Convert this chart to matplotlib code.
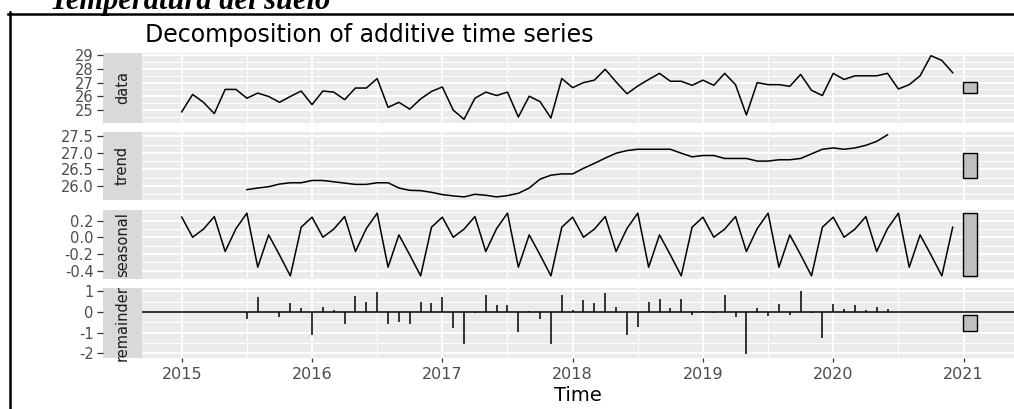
import numpy as np
import matplotlib
matplotlib.use("Agg")
from matplotlib import pyplot as plt
from matplotlib.patches import Rectangle
from matplotlib.lines import Line2D
from matplotlib.ticker import FixedLocator, MultipleLocator, FormatStrFormatter

plt.rcParams['font.family'] = ['DejaVu Sans']
plt.rcParams['axes.unicode_minus'] = False

# monthly series, Jan 2015 .. Dec 2020
start_year = 2015
freq = 12
data_vals = [24.85, 26.13, 25.55, 24.72, 26.50, 26.50, 25.85, 26.23, 25.98, 25.55, 25.98, 26.38,
             25.38, 26.38, 26.30, 25.75, 26.60, 26.60, 27.30, 25.18, 25.55, 25.05, 25.80, 26.35,
             26.68, 24.98, 24.30, 25.85, 26.30, 26.05, 26.30, 24.47, 26.00, 25.60, 24.40, 27.30,
             26.63, 27.00, 27.18, 27.98, 27.05, 26.18, 26.75, 27.23, 27.68, 27.10, 27.10, 26.80,
             27.18, 26.80, 27.68, 26.85, 24.62, 27.00, 26.85, 26.85, 26.73, 27.60, 26.43, 26.05,
             27.68, 27.23, 27.50, 27.50, 27.50, 27.68, 26.53, 26.85, 27.50, 28.98, 28.63, 27.73]

# trend and remainder run Jul 2015 .. Jun 2020
trend_offset = 6
trend_vals = [25.88, 25.93, 25.97, 26.05, 26.09, 26.09,
              26.16, 26.16, 26.12, 26.08, 26.04, 26.04, 26.09, 26.09, 25.93, 25.86, 25.85, 25.80,
              25.73, 25.69, 25.66, 25.74, 25.71, 25.66, 25.70, 25.77, 25.93, 26.20, 26.32, 26.36,
              26.36, 26.53, 26.68, 26.84, 26.99, 27.07, 27.11, 27.11, 27.11, 27.11, 26.99, 26.88,
              26.92, 26.92, 26.83, 26.83, 26.83, 26.75, 26.75, 26.79, 26.79, 26.83, 26.97, 27.11,
              27.15, 27.11, 27.15, 27.23, 27.35, 27.55]

seasonal_month = [0.241, 0.0, 0.097, 0.248, -0.172, 0.104, 0.289, -0.36, 0.028, -0.212, -0.464, 0.12]

remainder_vals = [-0.33, 0.70, -0.02, -0.25, 0.45, 0.17,
                  -1.10, 0.25, 0.07, -0.60, 0.78, 0.50, 0.98, -0.60, -0.47, -0.60, 0.50, 0.45,
                  0.70, -0.80, -1.55, -0.05, 0.83, 0.33, 0.33, -0.97, 0.04, -0.33, -1.55, 0.83,
                  0.07, 0.57, 0.45, 0.90, 0.25, -1.10, -0.72, 0.50, 0.62, 0.17, 0.62, -0.13,
                  0.02, -0.05, 0.82, -0.25, -2.05, 0.17, -0.18, 0.37, -0.13, 1.00, -0.05, -1.25,
                  0.37, 0.12, 0.32, 0.07, 0.25, 0.12]

panel_names = ["data", "trend", "seasonal", "remainder"]
year_ticks = [2015, 2016, 2017, 2018, 2019, 2020, 2021]
data_ticks = [25, 26, 27, 28, 29]
trend_ticks = [26.0, 26.5, 27.0, 27.5]
seasonal_ticks = [-0.4, -0.2, 0.0, 0.2]
remainder_ticks = [-2, -1, 0, 1]

n = len(data_vals)
t = start_year + np.arange(n) / freq
t_tr = t[trend_offset:trend_offset + len(trend_vals)]
seasonal_vals = np.tile(seasonal_month, n // freq)

W, H = 1014, 409
fig = plt.figure(figsize=(W / 100, H / 100), dpi=100)


def box(x0, y0, x1, y1):
    return [x0 / W, 1 - y1 / H, (x1 - x0) / W, (y1 - y0) / H]


rows = [(52.5, 122.5), (131.7, 200), (210, 279), (288, 357.5)]
px_left, px_strip, px_right = 142, 103, 1014
xlim = (2014.695, 2014.695 + (px_right - px_left) / 130.3)

series = [(t, np.array(data_vals)), (t_tr, np.array(trend_vals)),
          (t, seasonal_vals), (t_tr, np.array(remainder_vals))]
ticks = [data_ticks, trend_ticks, seasonal_ticks, remainder_ticks]
fmts = ['%d', '%.1f', '%.1f', '%d']

# range bars: same length (seasonal range) in every panel, centred on each panel's range
bar_len = seasonal_vals.max() - seasonal_vals.min()
span = t[-1] - t[0]
bar_x0 = t[-1] + 0.014 * span
bar_w = 0.018 * span

for i, name in enumerate(panel_names):
    y0, y1 = rows[i]
    xs, ys = series[i]
    lo, hi = ys.min(), ys.max()
    if name == "remainder":
        lo, hi = min(lo, 0), max(hi, 0)
    r = hi - lo
    ylim = (lo - 0.05 * r, hi + 0.05 * r)
    mid = (ys.min() + ys.max()) / 2

    ax = fig.add_axes(box(px_left, y0, px_right, y1))
    ax.set_facecolor('#EBEBEB')
    for s in ax.spines.values():
        s.set_visible(False)
    ax.set_xlim(*xlim)
    ax.set_ylim(*ylim)
    step = ticks[i][1] - ticks[i][0]
    ax.yaxis.set_major_locator(FixedLocator(ticks[i]))
    ax.yaxis.set_minor_locator(MultipleLocator(step / 2))
    ax.xaxis.set_major_locator(FixedLocator(year_ticks))
    ax.xaxis.set_minor_locator(MultipleLocator(0.5))
    ax.grid(which='major', color='white', lw=1.3)
    ax.grid(which='minor', color='white', lw=0.65)
    ax.set_axisbelow(True)
    ax.tick_params(which='both', left=False, labelleft=False)
    ax.tick_params(which='minor', bottom=False)

    if name == "remainder":
        ax.axhline(0, color='black', lw=1.1)
        ax.vlines(xs, 0, ys, color='black', lw=1.1)
        ax.tick_params(which='major', bottom=True, length=3, width=0.9, color='#333333',
                       labelsize=11.5, labelcolor='#4D4D4D', pad=4)
        ax.set_xticklabels([str(y) for y in year_ticks])
        ax.set_xlabel("Time", fontsize=14, labelpad=3)
    else:
        ax.plot(xs, ys, color='black', lw=1.1)
        ax.tick_params(which='major', bottom=False, labelbottom=False)

    ax.add_patch(Rectangle((bar_x0, mid - bar_len / 2), bar_w, bar_len,
                           facecolor='#BFBFBF', edgecolor='black', lw=1.0))

    sax = fig.add_axes(box(px_strip, y0, px_left, y1))
    sax.set_facecolor('#D9D9D9')
    for s in sax.spines.values():
        s.set_visible(False)
    sax.set_ylim(*ylim)
    sax.set_xticks([])
    sax.yaxis.set_major_locator(FixedLocator(ticks[i]))
    sax.yaxis.set_major_formatter(FormatStrFormatter(fmts[i]))
    sax.tick_params(axis='y', length=4.3, width=0.9, color='#333333',
                    labelsize=10.5, labelcolor='#4D4D4D', pad=2.5)
    sax.text(0.5, 0.5, name, rotation=90, ha='center', va='center',
             transform=sax.transAxes, fontsize=10.5, color='#1A1A1A')

fig.text(145 / W, 1 - 42 / H, "Decomposition of additive time series",
         fontsize=17, va='baseline', ha='left')
fig.text(50 / W, 1 - 9.5 / H, "Temperatura del suelo", fontsize=22,
         family='Liberation Serif', style='italic', weight='bold',
         va='baseline', ha='left')

# outer frame
fig.add_artist(Line2D([9.5 / W, 9.5 / W], [0, 1 - 12 / H], color='black', lw=1.8))
fig.add_artist(Line2D([8 / W, 1], [1 - 13.5 / H, 1 - 13.5 / H], color='black', lw=1.8))

fig.savefig("out.png", dpi=100)
